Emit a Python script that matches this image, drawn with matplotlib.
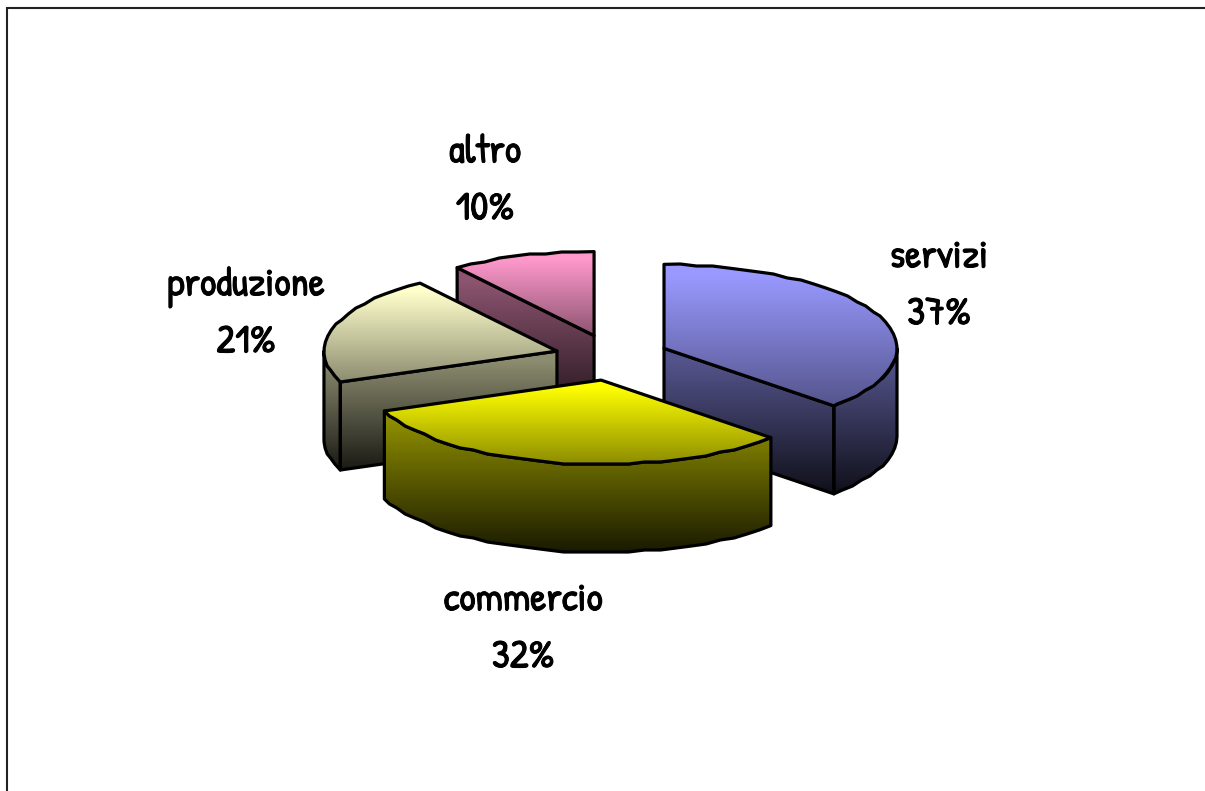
import numpy as np
from matplotlib import pyplot as plt
from matplotlib import patheffects
from matplotlib.colors import to_rgb
from matplotlib.patches import Polygon

categories = ['servizi', 'commercio', 'produzione', 'altro']
shares = [37, 32, 21, 10]
colors = ['#9999FF', '#FFFF00', '#FFFFCC', '#FF99CC']

# layout in pixels
center_x, center_y = 611.7, 357.5
radius_x, radius_y = 233, 84
explode_x, explode_y = 57, 23
depth = 88
label_x = [939, 523, 246, 485]
label_y = [288, 631, 316, 183]

fig = plt.figure(figsize=(12.05, 7.91), dpi=100)
ax = fig.add_axes([0, 0, 1, 1])
ax.set_xlim(0, 1205)
ax.set_ylim(791, 0)
ax.axis('off')


def arc(apex, start, end):
    # rim of the slice, snapped a bit like the old low resolution chart
    angles = np.radians(np.arange(start, end, 4.0).tolist() + [end])
    x = apex[0] + radius_x * np.sin(angles)
    y = apex[1] - radius_y * np.cos(angles)
    y[1:-1] = np.round(y[1:-1] / 2.0) * 2.0
    return np.column_stack([x, y])


def gradient_fill(polys, top, bottom, zorder):
    all_pts = np.vstack(polys)
    y0, y1 = all_pts[:, 1].min(), all_pts[:, 1].max()
    x0, x1 = all_pts[:, 0].min() - 2, all_pts[:, 0].max() + 2
    t = np.clip((np.linspace(0, 1, 256) - 0.08) / 0.92, 0, 1)[:, None, None]
    grad = (1 - t) * np.array(top) + t * np.array(bottom)
    for pts in polys:
        im = ax.imshow(grad, extent=(x0, x1, y1, y0), aspect='auto',
                       interpolation='bilinear', zorder=zorder)
        clip = Polygon(pts, closed=True, transform=ax.transData, fc='none', ec='none')
        ax.add_patch(clip)
        im.set_clip_path(clip)
        ax.add_patch(Polygon(pts, closed=True, fc='none', ec='black', lw=2.3,
                             joinstyle='round', zorder=zorder + 0.1))


# slices as (start, end) angles clockwise from 12 o'clock
edges = np.concatenate([[0], np.cumsum(shares)]) / sum(shares) * 360
slices = []
for i in range(len(shares)):
    mid = np.radians((edges[i] + edges[i + 1]) / 2)
    apex = (center_x + explode_x * np.sin(mid), center_y - explode_y * np.cos(mid))
    slices.append((apex, edges[i], edges[i + 1], to_rgb(colors[i])))

order = [3, 2, 0, 1]
for z, i in enumerate(order):
    apex, start, end, col = slices[i]
    rgb = np.array(col)
    down = np.array([0, depth])
    walls = []
    # cut faces that look towards the viewer
    if np.sin(np.radians(start)) < -1e-6:
        p = arc(apex, start, start + 1)[0]
        walls.append(np.array([apex, p, p + down, np.array(apex) + down]))
    if np.sin(np.radians(end)) > 1e-6:
        p = arc(apex, end - 1, end)[-1]
        walls.append(np.array([apex, p, p + down, np.array(apex) + down]))
    # outer rim, front half only
    a, b = max(start, 90), min(end, 270)
    if b > a:
        rim = arc(apex, a, b)
        walls.append(np.vstack([rim, rim[::-1] + down]))
    gradient_fill(walls, rgb * 0.55, rgb * 0.1, 2 + z)

    top = np.vstack([[apex], arc(apex, start, end)])
    gradient_fill([top], rgb, rgb * 0.55, 2.5 + z)

for name, share, x, y in zip(categories, shares, label_x, label_y):
    ax.text(x, y, f'{name}\n{share}%', ha='center', va='center', fontsize=29,
            family=['Patrick Hand', 'Lato'], linespacing=1.52, color='black', zorder=10,
            path_effects=[patheffects.withStroke(linewidth=0.7, foreground='black')])

# frame of the original slide, only top and left are inside the crop
ax.plot([6.5, 6.5, 1205], [791, 8, 8], color='#222222', lw=1.5, zorder=1,
        solid_joinstyle='miter')

ax.set_xlim(0, 1205)
ax.set_ylim(791, 0)
fig.savefig('out.png', dpi=100)
